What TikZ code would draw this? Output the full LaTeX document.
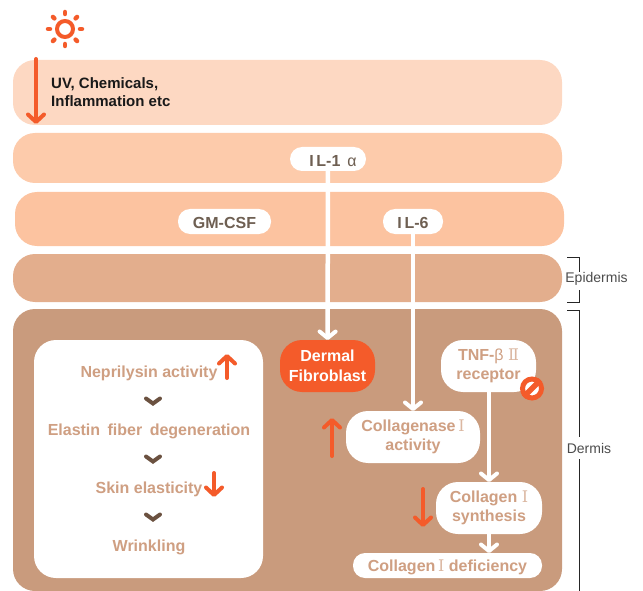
\documentclass[tikz,border=0pt]{standalone}
\usepackage{fontspec}
\setmainfont{Liberation Sans}
\newfontfamily\numfont{DejaVu Serif}
\usepackage{tikz}
\usetikzlibrary{arrows.meta}
\definecolor{sunorange}{HTML}{F45B2A}
\definecolor{bandone}{HTML}{FDD8C2}
\definecolor{bandtwo}{HTML}{FDCBAB}
\definecolor{bandthree}{HTML}{FCC3A0}
\definecolor{bandfour}{HTML}{E3AE8D}
\definecolor{bandfive}{HTML}{C99B7D}
\definecolor{palebrown}{HTML}{CF9F82}
\definecolor{darkbrown}{HTML}{6E5F52}
\definecolor{chevronbrown}{HTML}{6B5140}
\newcommand{\numone}{{\numfont\mdseries\color{palebrown!75}Ⅰ}}
\newcommand{\numtwo}{{\numfont\mdseries\color{palebrown!75}Ⅱ}}

\begin{document}
\begin{tikzpicture}[
    x=1pt,
    y=-1pt,
    band/.style={rectangle, rounded corners=22pt, inner sep=0pt, outer sep=0pt},
    pill/.style={rectangle, fill=white, rounded corners=12pt, inner sep=0pt, outer sep=0pt, align=center, font=\bfseries\fontsize{16}{18}\selectfont, text=darkbrown, execute at begin node={\rule{0pt}{15pt}}},
    stepbox/.style={rectangle, fill=white, rounded corners=22pt, inner sep=0pt, outer sep=0pt, align=center, font=\bfseries\fontsize{16}{19.5}\selectfont, text=palebrown, execute at begin node={\rule{0pt}{17pt}}},
    steptext/.style={inner sep=0pt, font=\bfseries\fontsize{16}{18}\selectfont, text=palebrown},
    flow/.style={-{Straight Barb[length=6.5pt,width=16pt,round,line width=4pt]}, white, line width=4.5pt},
    effect/.style={-{Straight Barb[length=7.5pt,width=16pt,round,line width=4pt]}, sunorange, line width=4pt, line cap=round},
    chevron/.style={chevronbrown, line width=4pt, line cap=round},
    bracket/.style={black!85, line width=0.8pt},
    side/.style={inner sep=0pt, font=\fontsize{14}{16}\selectfont, text=black!70}
]
\useasboundingbox (0,0) rectangle (643,591);

% Skin layers
\node[band, fill=bandone, minimum width=549pt, minimum height=65pt] (uv_band) at (287.5,92.5) {};
\node[band, fill=bandtwo, minimum width=549pt, minimum height=50pt] (il_band) at (287.5,158) {};
\node[band, fill=bandthree, minimum width=549pt, minimum height=54pt] (gm_band) at (289.5,219) {};
\node[band, fill=bandfour, minimum width=549pt, minimum height=48pt] (epidermis_band) at (287.5,278) {};
\node[band, fill=bandfive, minimum width=549pt, minimum height=282pt] (dermis_band) at (287.5,450) {};

% Sun
\draw[sunorange, line width=4pt] (65,29) circle (8);
\foreach \a in {0,45,...,315}
    \draw[sunorange, line width=4.5pt, line cap=round] (65,29) ++(\a:15) -- ++(\a:2);

% Cytokines
\node[inner sep=0pt, align=left, anchor=west, font=\bfseries\fontsize{15}{18}\selectfont, text=black!90] (uv_text) at (51,92.5) {UV, Chemicals,\\Inflammation etc};
\node[pill, minimum width=76pt, minimum height=24pt] (il_one) at (328,159) {\hspace*{10pt}I\,L-1\hspace{7pt}{\mdseries α}};
\node[pill, minimum width=93pt, minimum height=25pt] (gm_csf) at (224.5,221.5) {GM-CSF};
\node[pill, minimum width=60pt, minimum height=25pt] (il_six) at (413,221.5) {I\,L-6};

% Dermis boxes
\node[band, fill=white, minimum width=229pt, minimum height=238pt] (left_box) at (148.5,459) {};
\node[stepbox, fill=sunorange, text=white, minimum width=95pt, minimum height=52pt] (fibroblast) at (327.5,366) {Dermal\\Fibroblast};
\node[stepbox, minimum width=95pt, minimum height=52pt] (tnf_receptor) at (488.5,366) {TNF-{\mdseries β} \numtwo\\receptor};
\node[stepbox, minimum width=134pt, minimum height=52pt] (collagenase) at (413,437) {Collagenase\,\numone\\activity};
\node[stepbox, minimum width=106pt, minimum height=52pt] (collagen_syn) at (489,508) {Collagen \numone\\synthesis};
\node[pill, text=palebrown, minimum width=189pt, minimum height=25pt] (collagen_def) at (447.5,565.5) {Collagen\,\numone\ deficiency};

% Left box steps
\node[steptext] (neprilysin) at (149,373) {Neprilysin activity};
\node[steptext] (elastin) at (149,431.5) {Elastin\hspace{3pt} fiber\hspace{3pt} degeneration};
\node[steptext] (elasticity) at (149,489.5) {Skin elasticity};
\node[steptext] (wrinkling) at (149,547.5) {Wrinkling};
\foreach \y in {398.5,456.5,514.5}
    \draw[chevron] (146,\y) -- (153,\y+5) -- (160,\y);

% No sign
\node[circle, fill=white, draw=sunorange, line width=5pt, minimum size=19pt, inner sep=0pt] (no_sign) at (532,388.5) {};
\draw[sunorange, line width=5.5pt] (no_sign.south west) -- (no_sign.north east);

% Signal flow
\draw[flow] (il_one) -- (fibroblast);
\draw[flow] (il_six) -- (collagenase.north -| il_six);
\draw[flow] (tnf_receptor.south -| collagen_syn) -- (collagen_syn);
\draw[flow] (collagen_syn) -- (collagen_def.north -| collagen_syn);

% Orange arrows
\coordinate (uv_start) at (36,59);
\coordinate (uv_end) at (36,124);
\coordinate (nep_start) at (227,378);
\coordinate (nep_end) at (227,354);
\coordinate (skin_start) at (214,473);
\coordinate (skin_end) at (214,497);
\coordinate (collagenase_start) at (332,456);
\coordinate (collagenase_end) at (332,418);
\coordinate (synthesis_start) at (423,489);
\coordinate (synthesis_end) at (423,527);
\draw[effect] (uv_start) -- (uv_end);
\draw[effect] (nep_start) -- (nep_end);
\draw[effect] (skin_start) -- (skin_end);
\draw[effect] (collagenase_start) -- (collagenase_end);
\draw[effect] (synthesis_start) -- (synthesis_end);

% Layer labels
\node[side] (epidermis) at (596.5,279) {Epidermis};
\node[side] (dermis) at (589,448) {Dermis};
\draw[bracket] (567,257) -| (579.5,272);
\draw[bracket] (579.5,290) |- (567,302);
\draw[bracket] (567,310) -| (579.5,437);
\draw[bracket] (579.5,459) -- (579.5,591);

\end{tikzpicture}
\end{document}
